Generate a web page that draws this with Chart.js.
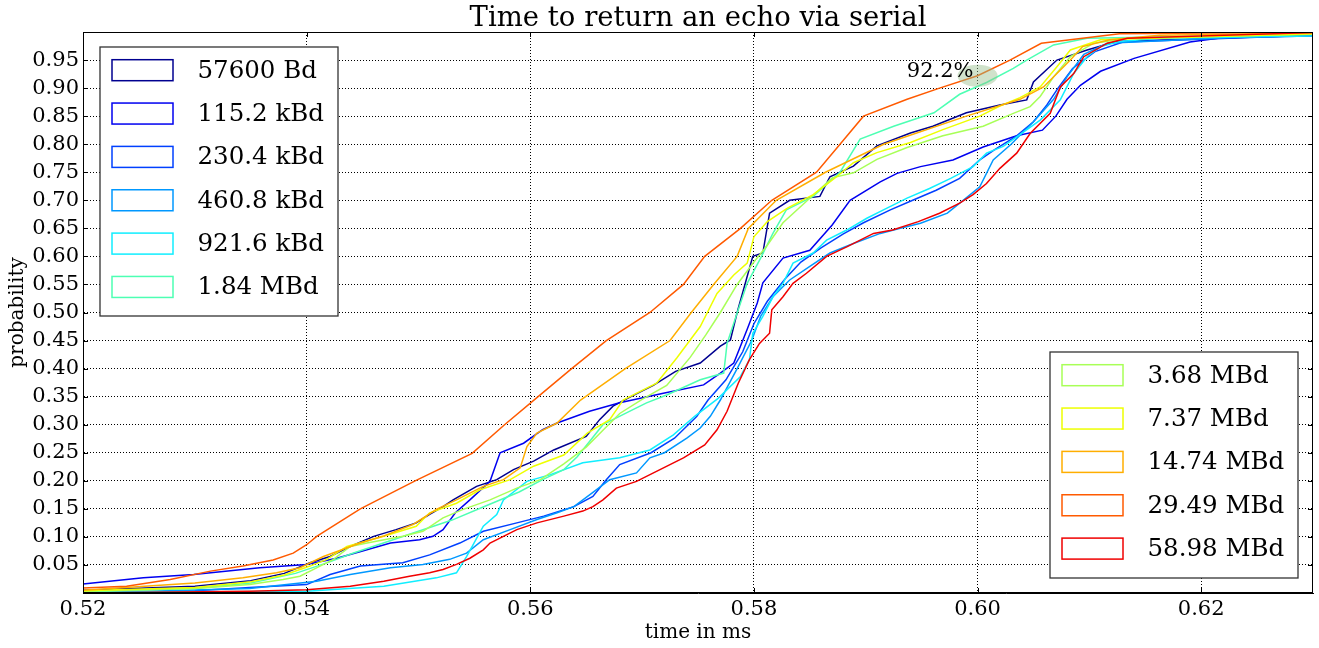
<!DOCTYPE html>
<html>
<head>
<meta charset="utf-8">
<title>Time to return an echo via serial</title>
<script src="https://cdn.jsdelivr.net/npm/chart.js@4.4.1/dist/chart.umd.min.js"></script>
<style>
  html, body { margin: 0; padding: 0; background: #fff; }
  #wrap { width: 1319px; height: 648px; position: relative; }
</style>
</head>
<body>
<div id="wrap"><canvas id="chart"></canvas></div>
<script>
// one curve per baud rate: empirical CDF of the echo round trip time
const labels = ["57600 Bd", "115.2 kBd", "230.4 kBd", "460.8 kBd", "921.6 kBd", "1.84 MBd",
                "3.68 MBd", "7.37 MBd", "14.74 MBd", "29.49 MBd", "58.98 MBd"];
const colors = ["#000090", "#0000f0", "#0040ff", "#0098ff", "#10eeff", "#4dffb3",
                "#a8ff57", "#eeff00", "#ffae00", "#ff5a00", "#f00000"];

// [time in ms, probability]
const cdf57600 = [[0.5200,0.005],[0.5300,0.012],[0.5350,0.022],[0.5380,0.035],[0.5403,0.054],[0.5421,0.065],[0.5439,0.083],[0.5460,0.101],[0.5480,0.113],[0.5498,0.125],[0.5510,0.140],[0.5522,0.154],[0.5531,0.166],[0.5552,0.190],[0.5570,0.202],[0.5585,0.220],[0.5603,0.235],[0.5621,0.255],[0.5650,0.279],[0.5662,0.309],[0.5674,0.333],[0.5690,0.350],[0.5710,0.370],[0.5730,0.395],[0.5752,0.410],[0.5770,0.440],[0.5779,0.451],[0.5785,0.500],[0.5799,0.600],[0.5808,0.606],[0.5814,0.677],[0.5832,0.700],[0.5859,0.707],[0.5868,0.742],[0.5889,0.761],[0.5910,0.797],[0.5940,0.820],[0.5960,0.832],[0.5990,0.856],[0.6020,0.870],[0.6044,0.879],[0.6050,0.911],[0.6071,0.950],[0.6098,0.968],[0.6124,0.983],[0.6300,0.994]];
const cdf115k = [[0.5200,0.016],[0.5254,0.027],[0.5299,0.033],[0.5358,0.045],[0.5400,0.051],[0.5427,0.062],[0.5450,0.075],[0.5475,0.089],[0.5501,0.095],[0.5513,0.101],[0.5522,0.113],[0.5533,0.143],[0.5546,0.166],[0.5564,0.199],[0.5573,0.250],[0.5594,0.267],[0.5611,0.291],[0.5624,0.303],[0.5653,0.324],[0.5680,0.339],[0.5719,0.356],[0.5755,0.371],[0.5770,0.392],[0.5782,0.410],[0.5794,0.470],[0.5803,0.517],[0.5808,0.553],[0.5826,0.597],[0.5850,0.611],[0.5870,0.656],[0.5886,0.700],[0.5913,0.733],[0.5928,0.748],[0.5949,0.760],[0.5978,0.772],[0.6005,0.795],[0.6035,0.815],[0.6058,0.825],[0.6070,0.850],[0.6080,0.880],[0.6092,0.905],[0.6110,0.930],[0.6140,0.953],[0.6190,0.982],[0.6220,0.990],[0.6300,0.993]];
const cdf230k = [[0.5200,0.001],[0.5300,0.004],[0.5349,0.010],[0.5400,0.015],[0.5421,0.033],[0.5448,0.048],[0.5486,0.054],[0.5510,0.068],[0.5537,0.089],[0.5558,0.110],[0.5588,0.125],[0.5612,0.137],[0.5639,0.154],[0.5656,0.172],[0.5668,0.202],[0.5680,0.229],[0.5708,0.250],[0.5729,0.276],[0.5749,0.315],[0.5759,0.344],[0.5775,0.380],[0.5790,0.430],[0.5800,0.480],[0.5812,0.520],[0.5828,0.560],[0.5842,0.590],[0.5860,0.615],[0.5880,0.640],[0.5898,0.660],[0.5922,0.683],[0.5942,0.700],[0.5963,0.718],[0.5984,0.739],[0.6002,0.772],[0.6015,0.790],[0.6035,0.815],[0.6050,0.840],[0.6062,0.870],[0.6072,0.900],[0.6085,0.935],[0.6105,0.965],[0.6130,0.982],[0.6300,0.994]];
const cdf460k = [[0.5200,0.000],[0.5349,0.008],[0.5409,0.021],[0.5439,0.033],[0.5475,0.045],[0.5504,0.051],[0.5528,0.060],[0.5543,0.071],[0.5558,0.095],[0.5582,0.113],[0.5606,0.131],[0.5624,0.143],[0.5639,0.154],[0.5659,0.184],[0.5671,0.202],[0.5695,0.214],[0.5707,0.241],[0.5720,0.250],[0.5740,0.276],[0.5752,0.294],[0.5761,0.315],[0.5770,0.344],[0.5785,0.400],[0.5798,0.450],[0.5806,0.493],[0.5817,0.528],[0.5832,0.558],[0.5850,0.582],[0.5868,0.606],[0.5889,0.623],[0.5913,0.641],[0.5931,0.650],[0.5949,0.659],[0.5973,0.677],[0.5991,0.706],[0.6002,0.724],[0.6014,0.772],[0.6030,0.800],[0.6050,0.840],[0.6068,0.880],[0.6080,0.920],[0.6095,0.960],[0.6116,0.980],[0.6300,0.997]];
const cdf921k = [[0.5200,0.001],[0.5400,0.003],[0.5469,0.012],[0.5516,0.027],[0.5534,0.036],[0.5543,0.065],[0.5558,0.119],[0.5570,0.140],[0.5576,0.166],[0.5597,0.199],[0.5618,0.211],[0.5647,0.232],[0.5680,0.241],[0.5707,0.255],[0.5728,0.282],[0.5747,0.315],[0.5768,0.347],[0.5788,0.386],[0.5796,0.416],[0.5799,0.463],[0.5808,0.493],[0.5817,0.528],[0.5826,0.552],[0.5835,0.588],[0.5853,0.606],[0.5865,0.629],[0.5883,0.647],[0.5901,0.668],[0.5919,0.686],[0.5937,0.704],[0.5957,0.721],[0.5976,0.739],[0.5996,0.760],[0.6008,0.784],[0.6023,0.796],[0.6035,0.813],[0.6056,0.843],[0.6074,0.879],[0.6086,0.926],[0.6098,0.956],[0.6110,0.974],[0.6127,0.983],[0.6163,0.989],[0.6300,0.993]];
const cdf1m84 = [[0.5200,0.002],[0.5300,0.008],[0.5350,0.018],[0.5390,0.035],[0.5420,0.055],[0.5440,0.070],[0.5470,0.090],[0.5500,0.110],[0.5530,0.130],[0.5560,0.155],[0.5590,0.180],[0.5611,0.202],[0.5630,0.220],[0.5642,0.243],[0.5653,0.270],[0.5665,0.300],[0.5686,0.321],[0.5704,0.339],[0.5722,0.353],[0.5752,0.380],[0.5773,0.392],[0.5776,0.445],[0.5785,0.499],[0.5794,0.552],[0.5806,0.597],[0.5817,0.641],[0.5829,0.683],[0.5853,0.707],[0.5877,0.750],[0.5895,0.809],[0.5925,0.832],[0.5961,0.856],[0.5984,0.889],[0.6008,0.910],[0.6032,0.935],[0.6044,0.950],[0.6068,0.977],[0.6098,0.989],[0.6300,0.996]];
const cdf3m68 = [[0.5200,0.003],[0.5300,0.008],[0.5349,0.015],[0.5379,0.024],[0.5394,0.030],[0.5412,0.048],[0.5424,0.060],[0.5439,0.083],[0.5454,0.089],[0.5486,0.101],[0.5504,0.110],[0.5522,0.134],[0.5540,0.149],[0.5564,0.166],[0.5588,0.187],[0.5609,0.202],[0.5630,0.230],[0.5650,0.260],[0.5665,0.290],[0.5680,0.320],[0.5700,0.345],[0.5722,0.370],[0.5743,0.420],[0.5757,0.460],[0.5770,0.500],[0.5785,0.550],[0.5800,0.590],[0.5812,0.620],[0.5826,0.660],[0.5848,0.700],[0.5870,0.740],[0.5889,0.749],[0.5910,0.773],[0.5937,0.794],[0.5969,0.815],[0.6005,0.832],[0.6032,0.855],[0.6047,0.867],[0.6056,0.885],[0.6068,0.920],[0.6083,0.956],[0.6104,0.980],[0.6134,0.989],[0.6300,0.996]];
const cdf7m37 = [[0.5200,0.004],[0.5300,0.010],[0.5350,0.020],[0.5380,0.032],[0.5403,0.048],[0.5418,0.060],[0.5436,0.083],[0.5469,0.101],[0.5498,0.119],[0.5510,0.143],[0.5534,0.160],[0.5555,0.184],[0.5582,0.202],[0.5603,0.226],[0.5630,0.246],[0.5651,0.285],[0.5671,0.309],[0.5683,0.344],[0.5713,0.374],[0.5731,0.419],[0.5752,0.475],[0.5767,0.534],[0.5782,0.567],[0.5794,0.588],[0.5800,0.635],[0.5812,0.662],[0.5830,0.686],[0.5853,0.710],[0.5874,0.742],[0.5889,0.767],[0.5910,0.785],[0.5940,0.803],[0.5969,0.826],[0.6002,0.850],[0.6020,0.868],[0.6038,0.883],[0.6056,0.902],[0.6071,0.938],[0.6083,0.968],[0.6110,0.986],[0.6300,0.997]];
const cdf14m74 = [[0.5200,0.005],[0.5300,0.018],[0.5343,0.027],[0.5373,0.036],[0.5394,0.045],[0.5415,0.065],[0.5448,0.089],[0.5468,0.101],[0.5495,0.122],[0.5516,0.149],[0.5534,0.166],[0.5558,0.190],[0.5576,0.202],[0.5591,0.223],[0.5597,0.261],[0.5606,0.285],[0.5624,0.303],[0.5645,0.344],[0.5685,0.400],[0.5725,0.450],[0.5744,0.500],[0.5764,0.550],[0.5785,0.600],[0.5795,0.650],[0.5820,0.700],[0.5864,0.750],[0.5916,0.800],[0.5990,0.850],[0.6038,0.880],[0.6059,0.902],[0.6083,0.950],[0.6094,0.974],[0.6118,0.986],[0.6163,0.994],[0.6300,0.998]];
const cdf29m49 = [[0.5200,0.009],[0.5239,0.012],[0.5278,0.024],[0.5314,0.039],[0.5343,0.048],[0.5370,0.059],[0.5388,0.071],[0.5400,0.086],[0.5409,0.101],[0.5448,0.150],[0.5497,0.200],[0.5548,0.249],[0.5577,0.300],[0.5607,0.350],[0.5637,0.400],[0.5668,0.450],[0.5707,0.500],[0.5737,0.550],[0.5756,0.600],[0.5788,0.650],[0.5816,0.700],[0.5856,0.750],[0.5877,0.800],[0.5898,0.850],[0.5937,0.880],[0.5966,0.900],[0.6000,0.922],[0.6029,0.950],[0.6057,0.980],[0.6127,0.997],[0.6300,1.000]];
const cdf58m98 = [[0.5200,0.000],[0.5349,0.003],[0.5400,0.006],[0.5439,0.012],[0.5469,0.021],[0.5492,0.030],[0.5510,0.036],[0.5522,0.042],[0.5534,0.051],[0.5546,0.062],[0.5558,0.077],[0.5564,0.089],[0.5576,0.101],[0.5588,0.113],[0.5606,0.125],[0.5630,0.137],[0.5647,0.146],[0.5656,0.154],[0.5665,0.166],[0.5677,0.187],[0.5695,0.199],[0.5716,0.220],[0.5737,0.241],[0.5756,0.264],[0.5767,0.291],[0.5776,0.324],[0.5786,0.374],[0.5796,0.416],[0.5805,0.445],[0.5814,0.463],[0.5816,0.505],[0.5826,0.528],[0.5835,0.552],[0.5847,0.570],[0.5865,0.600],[0.5883,0.617],[0.5907,0.641],[0.5924,0.647],[0.5947,0.662],[0.5966,0.677],[0.5984,0.695],[0.5996,0.710],[0.6008,0.730],[0.6020,0.757],[0.6035,0.784],[0.6047,0.819],[0.6065,0.855],[0.6074,0.902],[0.6086,0.926],[0.6095,0.956],[0.6116,0.980],[0.6134,0.989],[0.6300,0.999]];
const curves = [cdf57600, cdf115k, cdf230k, cdf460k, cdf921k, cdf1m84, cdf3m68, cdf7m37, cdf14m74, cdf29m49, cdf58m98];

// axes
const xMin = 0.52, xMax = 0.63, xStep = 0.02;
const yMin = 0, yMax = 1, yStep = 0.05;

// highlighted point and its label
const markX = 0.60, markY = 0.922, markText = "92.2%";

const FONT = '"DejaVu Serif", serif';

function drawLegend(ctx, from, to, left, top, w, h) {
  ctx.fillStyle = '#fff';
  ctx.fillRect(left, top, w, h);
  ctx.strokeStyle = '#333';
  ctx.lineWidth = 1.3;
  ctx.strokeRect(left, top, w, h);
  ctx.font = '24.5px ' + FONT;
  ctx.textAlign = 'left';
  ctx.textBaseline = 'middle';
  for (let i = from; i < to; i++) {
    const cy = top + 23.2 + (i - from) * 43.35;
    ctx.strokeStyle = colors[i];
    ctx.lineWidth = 1.5;
    ctx.strokeRect(left + 12, cy - 10.5, 61, 21);
    ctx.fillStyle = '#000';
    ctx.fillText(labels[i], left + 97.5, cy + 1);
  }
}

const extras = {
  id: 'extras',
  afterDatasetsDraw(chart) {
    const { ctx, chartArea: a, scales: { x, y } } = chart;
    ctx.save();

    // marker ellipse + label
    const mx = x.getPixelForValue(markX), my = y.getPixelForValue(markY);
    ctx.fillStyle = 'rgba(150,190,140,0.45)';
    ctx.beginPath();
    ctx.ellipse(mx, my, 20, 11, 0, 0, Math.PI * 2);
    ctx.fill();
    ctx.fillStyle = '#000';
    ctx.font = '21px ' + FONT;
    ctx.textAlign = 'right';
    ctx.textBaseline = 'alphabetic';
    ctx.fillText(markText, mx - 4, my + 1);

    // full frame
    ctx.strokeStyle = '#000';
    ctx.lineWidth = 1;
    ctx.strokeRect(a.left + 0.5, a.top + 0.5, a.right - a.left - 1, a.bottom - a.top - 1);

    // inward ticks on all sides
    ctx.beginPath();
    x.ticks.forEach(t => {
      const px = Math.round(x.getPixelForValue(t.value)) + 0.5;
      ctx.moveTo(px, a.bottom); ctx.lineTo(px, a.bottom - 5);
      ctx.moveTo(px, a.top); ctx.lineTo(px, a.top + 5);
    });
    y.ticks.forEach(t => {
      const py = Math.round(y.getPixelForValue(t.value)) + 0.5;
      ctx.moveTo(a.left, py); ctx.lineTo(a.left + 5, py);
      ctx.moveTo(a.right, py); ctx.lineTo(a.right - 5, py);
    });
    ctx.stroke();

    // legends
    drawLegend(ctx, 0, 6, a.left + 17, a.top + 15, 238, 269);
    drawLegend(ctx, 6, 11, a.right - 15 - 248, a.bottom - 15 - 226, 248, 226);

    // title
    ctx.fillStyle = '#000';
    ctx.font = '27.5px ' + FONT;
    ctx.textAlign = 'center';
    ctx.textBaseline = 'alphabetic';
    ctx.fillText('Time to return an echo via serial', (a.left + a.right) / 2, 26);
    ctx.restore();
  }
};

const datasets = curves.map((c, i) => ({
  label: labels[i],
  data: c.map(p => ({ x: p[0], y: p[1] })),
  borderColor: colors[i],
  borderWidth: 1.5,
  pointRadius: 0,
  tension: 0,
  fill: false,
  order: curves.length - i
}));

new Chart(document.getElementById('chart'), {
  type: 'line',
  data: { datasets },
  options: {
    responsive: true,
    maintainAspectRatio: false,
    animation: false,
    layout: { padding: { top: 32, right: 6, left: 0, bottom: 0 } },
    plugins: { legend: { display: false }, tooltip: { enabled: false } },
    scales: {
      x: {
        type: 'linear',
        min: xMin, max: xMax,
        afterFit: s => { s.height = 55; },
        ticks: {
          stepSize: xStep, includeBounds: false, autoSkip: false, padding: 4,
          color: '#000', font: { family: FONT, size: 21 },
          callback: v => v.toFixed(2)
        },
        grid: { color: '#000', lineWidth: 1, drawTicks: false },
        border: { display: true, color: '#000', dash: [1, 2] },
        title: { display: true, text: 'time in ms', color: '#000',
                 font: { family: FONT, size: 20 }, padding: { top: 0, bottom: 3 } }
      },
      y: {
        type: 'linear',
        min: yMin, max: yMax,
        afterFit: s => { s.width = 83; },
        ticks: {
          stepSize: yStep, autoSkip: false, padding: 4,
          color: '#000', font: { family: FONT, size: 21 },
          callback: v => (v <= 0.001 || v >= 0.999) ? '' : v.toFixed(2)
        },
        grid: { color: '#000', lineWidth: 1, drawTicks: false },
        border: { display: true, color: '#000', dash: [1, 2] },
        title: { display: true, text: 'probability', color: '#000',
                 font: { family: FONT, size: 20 }, padding: { top: 6, bottom: 0 } }
      }
    }
  },
  plugins: [extras]
});
</script>
</body>
</html>
